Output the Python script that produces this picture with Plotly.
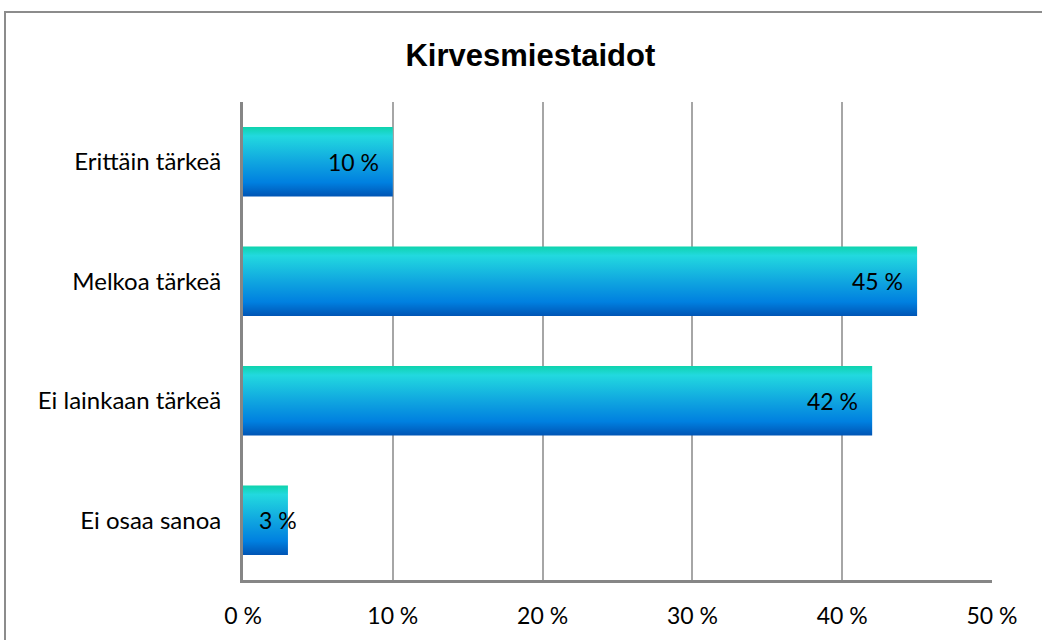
import plotly.graph_objects as go

categories = ["Erittäin tärkeä", "Melkoa tärkeä", "Ei lainkaan tärkeä", "Ei osaa sanoa"]
values = [10, 45, 42, 3]
x_ticks = [0, 10, 20, 30, 40, 50]
x_tick_labels = ["0 %", "10 %", "20 %", "30 %", "40 %", "50 %"]
title_text = "Kirvesmiestaidot"

W, H = 1042, 640
L, R, T, B = 243, 50, 102, 60
half = 0.29  # half bar thickness in category units

# vertical gradient, top of bar -> bottom of bar
grad = [
    [0.0, "#0fd3ad"],
    [0.13, "#22d9df"],
    [0.5, "#10a6e0"],
    [0.8, "#0080e0"],
    [1.0, "#0055b5"],
]

n = len(categories)
ypos = [n - 1 - i for i in range(n)]

fig = go.Figure()
for cat, v, y in zip(categories, values, ypos):
    top, bot = y + half, y - half
    fig.add_trace(go.Scatter(
        x=[0, v, v, 0, 0], y=[bot, bot, top, top, bot],
        mode="lines", line=dict(width=0), fill="toself",
        fillgradient=dict(type="vertical", colorscale=grad, start=top, stop=bot),
        hoverinfo="skip", showlegend=False, name=cat,
    ))

FONT = "Lato, 'Open Sans', sans-serif"
label_font = dict(family=FONT, size=23, color="#000000")
for v, y in zip(values, ypos):
    text = f"{v} %"
    if v >= 6:
        fig.add_annotation(x=v, y=y, text=text, showarrow=False, xanchor="right",
                           xshift=-12, font=label_font)
    else:
        fig.add_annotation(x=0, y=y, text=text, showarrow=False, xanchor="left",
                           xshift=14, font=label_font)

# outer chart frame
px2x = lambda p: (p - L) / (W - L - R)
px2y = lambda p: (H - B - p) / (H - T - B)
fig.add_shape(type="rect", xref="paper", yref="paper",
              x0=px2x(5), x1=px2x(1060), y0=px2y(700), y1=px2y(12),
              line=dict(color="#8c8c8c", width=2), layer="below")

fig.update_layout(
    width=W, height=H,
    margin=dict(l=L, r=R, t=T, b=B, autoexpand=False),
    paper_bgcolor="white", plot_bgcolor="white",
    title=dict(text=f"<b>{title_text}</b>", x=0.509, xanchor="center", y=1 - 55 / H, yanchor="middle",
               font=dict(family="Liberation Sans, Arial, sans-serif", size=31, color="#000000")),
    xaxis=dict(range=[0, 50], tickvals=x_ticks, ticktext=x_tick_labels, automargin=False,
               showgrid=True, gridcolor="#a6a6a6", gridwidth=2,
               showline=True, linecolor="#868686", linewidth=3,
               zeroline=False, ticks="", ticklen=0, ticklabelstandoff=13,
               tickfont=dict(family=FONT, size=23, color="#000000")),
    yaxis=dict(range=[-0.5, n - 0.5], tickvals=ypos, ticktext=categories, automargin=False,
               showgrid=False, showline=True, linecolor="#868686", linewidth=3,
               zeroline=False, ticks="", ticklabelstandoff=14,
               tickfont=dict(family=FONT, size=24, color="#000000")),
)

fig.write_html("out.html")
